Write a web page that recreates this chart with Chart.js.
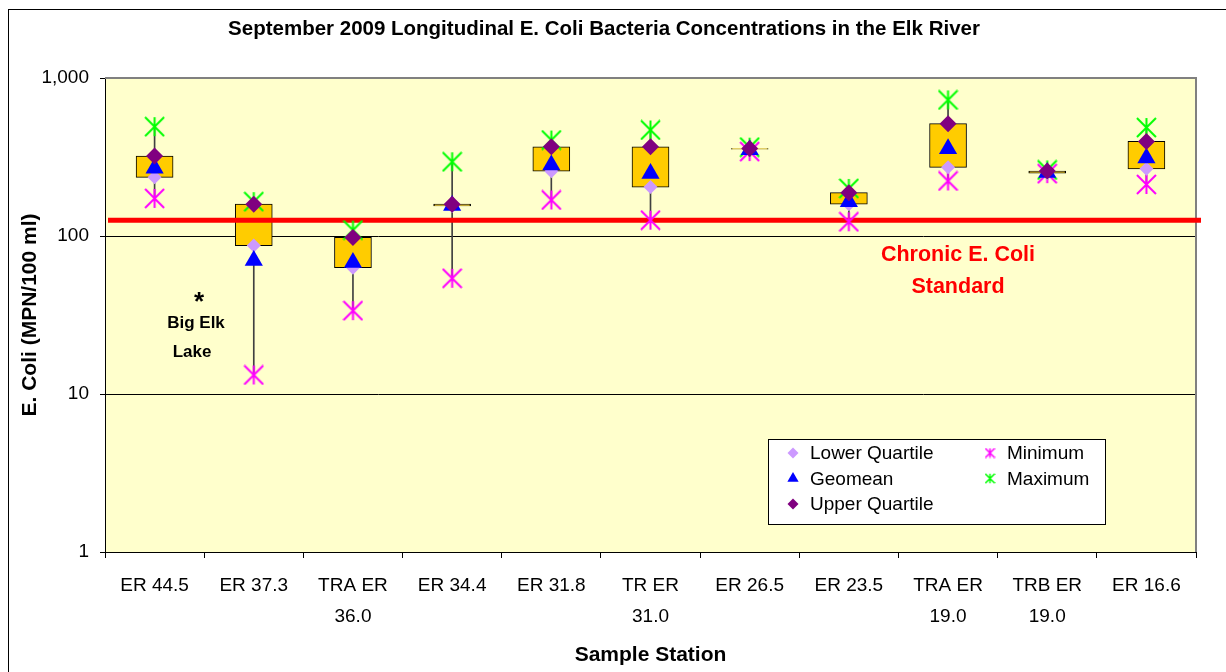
<!DOCTYPE html>
<html>
<head>
<meta charset="utf-8">
<script src="https://cdn.jsdelivr.net/npm/chart.js@4.4.1/dist/chart.umd.min.js"></script>
<style>
  html, body { margin: 0; padding: 0; background: #fff; }
  #wrap { position: relative; width: 1226px; height: 672px; overflow: hidden; }
  #frame { position: absolute; left: 8px; top: 9px; width: 1260px; height: 720px; border: 1px solid #000; }
  #chart { position: absolute; left: 0; top: 0; }
</style>
</head>
<body>
<div id="wrap">
  <div id="frame"></div>
  <canvas id="chart" width="1226" height="672"></canvas>
</div>
<script>
// stations along the river, upstream to downstream
const stations = ['ER 44.5', 'ER 37.3', ['TRA ER', '36.0'], 'ER 34.4', 'ER 31.8', ['TR ER', '31.0'],
                  'ER 26.5', 'ER 23.5', ['TRA ER', '19.0'], ['TRB ER', '19.0'], 'ER 16.6'];

// E. coli, MPN/100 ml
const lowerQuartile = [235, 87, 63, 155, 257, 204, 354, 159, 272, 250, 266];
const geomean       = [268, 70, 68, 156, 281, 249, 352, 165, 357, 252, 312];
const upperQuartile = [321, 159, 98, 159, 367, 367, 358, 188, 514, 258, 397];
const minimum       = [173, 13.2, 33.7, 54, 169, 126, 342, 123, 223, 248, 212];
const maximum       = [492, 165, 109, 295, 405, 469, 365, 200, 727, 262, 486];

const yTicks = [1, 10, 100, 1000];
const chronicStandard = 126;

Chart.defaults.font.family = "'Liberation Sans', Arial, sans-serif";
Chart.defaults.color = '#000';

// Excel style asterisk: vertical stroke plus an X
const makeStar = (color, size, lw) => {
    const c = document.createElement('canvas');
    c.width = size; c.height = size;
    const g = c.getContext('2d');
    g.strokeStyle = color;
    g.lineWidth = lw;
    const a = lw / 2, b = size - lw / 2;
    g.beginPath();
    g.moveTo(size / 2, a); g.lineTo(size / 2, b);
    g.moveTo(a, a); g.lineTo(b, b);
    g.moveTo(b, a); g.lineTo(a, b);
    g.stroke();
    return c;
};

const legendItems = [
    { text: 'Lower Quartile', style: 'rectRot', radius: 5.5, color: '#CC99FF', col: 0, row: 0 },
    { text: 'Geomean', style: 'triangle', radius: 6.5, color: '#0000FF', col: 0, row: 1 },
    { text: 'Upper Quartile', style: 'rectRot', radius: 5.5, color: '#800080', col: 0, row: 2 },
    { text: 'Minimum', style: makeStar('#FF00FF', 11, 1.5), col: 1, row: 0 },
    { text: 'Maximum', style: makeStar('#00FF00', 11, 1.5), col: 1, row: 1 },
];

const decor = {
    id: 'decor',
    beforeDraw(chart) {
        const {ctx, chartArea: a} = chart;
        ctx.save();
        ctx.fillStyle = '#FFFFCC';
        ctx.fillRect(a.left, a.top, a.right - a.left, a.bottom - a.top);
        ctx.restore();
    },
    beforeDatasetsDraw(chart) {
        const {ctx, chartArea: a} = chart;
        ctx.save();
        ctx.strokeStyle = '#808080';
        ctx.lineWidth = 2;
        ctx.beginPath();
        ctx.moveTo(a.left, a.top);
        ctx.lineTo(a.right, a.top);
        ctx.lineTo(a.right, a.bottom);
        ctx.stroke();
        ctx.restore();
    },
    afterDatasetDraw(chart, args) {
        if (args.meta.label !== 'Box') return;
        const {ctx, chartArea: a, scales} = chart;
        const y = scales.y.getPixelForValue(chronicStandard);
        ctx.save();
        ctx.strokeStyle = '#FF0000';
        ctx.lineWidth = 5;
        ctx.beginPath();
        ctx.moveTo(a.left + 3, y);
        ctx.lineTo(a.right + 5, y);
        ctx.stroke();
        ctx.restore();
    },
    afterDraw(chart) {
        const {ctx} = chart;
        ctx.save();
        ctx.textAlign = 'center';
        ctx.textBaseline = 'middle';

        ctx.fillStyle = '#FF0000';
        ctx.font = "bold 21.5px 'Liberation Sans', Arial, sans-serif";
        ctx.fillText('Chronic E. Coli', 958, 255);
        ctx.fillText('Standard', 958, 287);

        ctx.fillStyle = '#000';
        ctx.font = "bold 26px 'Liberation Sans', Arial, sans-serif";
        ctx.fillText('*', 199, 303);
        ctx.font = "bold 17px 'Liberation Sans', Arial, sans-serif";
        ctx.fillText('Big Elk', 196, 323);
        ctx.fillText('Lake', 192, 352);

        // legend box
        ctx.fillStyle = '#fff';
        ctx.fillRect(768, 439, 337, 85);
        ctx.strokeStyle = '#000';
        ctx.lineWidth = 1;
        ctx.strokeRect(768.5, 439.5, 337, 85);
        ctx.textAlign = 'left';
        ctx.font = "19px 'Liberation Sans', Arial, sans-serif";
        legendItems.forEach(it => {
            const mx = it.col ? 990 : 793;
            const my = 453 + it.row * 25.5;
            ctx.fillStyle = it.color || '#000';
            Chart.helpers.drawPoint(ctx, {pointStyle: it.style, radius: it.radius || 5, rotation: 0, borderWidth: 0}, mx, my);
            ctx.fillStyle = '#000';
            ctx.fillText(it.text, mx + 17, my + 1);
        });
        ctx.restore();
    }
};

const pointSet = (label, data, style, radius, color, order) => ({
    type: 'line', label, data, showLine: false, order,
    pointStyle: style, pointRadius: radius, pointHoverRadius: radius,
    backgroundColor: color, borderColor: color, pointBorderWidth: 0
});

new Chart(document.getElementById('chart'), {
    type: 'bar',
    data: {
        labels: stations,
        datasets: [
            pointSet('Upper Quartile', upperQuartile, 'rectRot', 8.5, '#800080', 1),
            pointSet('Geomean', geomean, 'triangle', 10.5, '#0000FF', 2),
            pointSet('Lower Quartile', lowerQuartile, 'rectRot', 7, '#CC99FF', 3),
            pointSet('Maximum', maximum, makeStar('#00FF00', 21, 2), 10, '#00FF00', 4),
            pointSet('Minimum', minimum, makeStar('#FF00FF', 21, 2), 10, '#FF00FF', 5),
            {
                label: 'Box', order: 6, grouped: false,
                data: lowerQuartile.map((v, i) => [v, upperQuartile[i]]),
                backgroundColor: '#FFCC00', borderColor: '#000', borderWidth: 1,
                borderSkipped: false, barThickness: 37
            },
            {
                label: 'Range', order: 7, grouped: false,
                data: minimum.map((v, i) => [v, maximum[i]]),
                backgroundColor: '#404040', borderWidth: 0, barThickness: 1
            }
        ]
    },
    options: {
        responsive: false,
        animation: false,
        devicePixelRatio: 1,
        layout: { padding: { left: 12, right: 30, top: 0, bottom: 0 } },
        plugins: {
            legend: { display: false },
            tooltip: { enabled: false },
            title: {
                display: true,
                text: 'September 2009 Longitudinal E. Coli Bacteria Concentrations in the Elk River',
                font: { size: 20.5, weight: 'bold' },
                color: '#000',
                padding: { top: 16.7, bottom: 36.7 }
            }
        },
        scales: {
            x: {
                afterFit: s => { s.height = 120; },
                ticks: { font: { size: 19, lineHeight: 1.63 }, color: '#000', padding: 12, maxRotation: 0, autoSkip: false },
                grid: { drawOnChartArea: false, tickLength: 6, color: '#000', offset: true },
                border: { color: '#000', width: 1 },
                title: {
                    display: true, text: 'Sample Station', color: '#000',
                    font: { size: 21, weight: 'bold' }, padding: { top: 0, bottom: 4.4 }
                }
            },
            y: {
                type: 'logarithmic',
                min: 1,
                max: 1000,
                afterFit: s => { s.width = 93; },
                afterBuildTicks: s => { s.ticks = yTicks.map(v => ({ value: v })); },
                ticks: {
                    font: { size: 19 }, color: '#000', padding: 11, autoSkip: false,
                    callback: v => Number(v).toLocaleString('en-US')
                },
                grid: {
                    color: c => (c.tick && c.tick.value === 1000) ? 'rgba(0,0,0,0)' : '#000',
                    tickColor: '#000', tickLength: 5, lineWidth: 1
                },
                border: { color: '#000', width: 1 },
                title: {
                    display: true, text: 'E. Coli (MPN/100 ml)', color: '#000',
                    font: { size: 21, weight: 'bold' }, padding: { top: 5.4, bottom: 0 }
                }
            }
        }
    },
    plugins: [decor]
});
</script>
</body>
</html>
